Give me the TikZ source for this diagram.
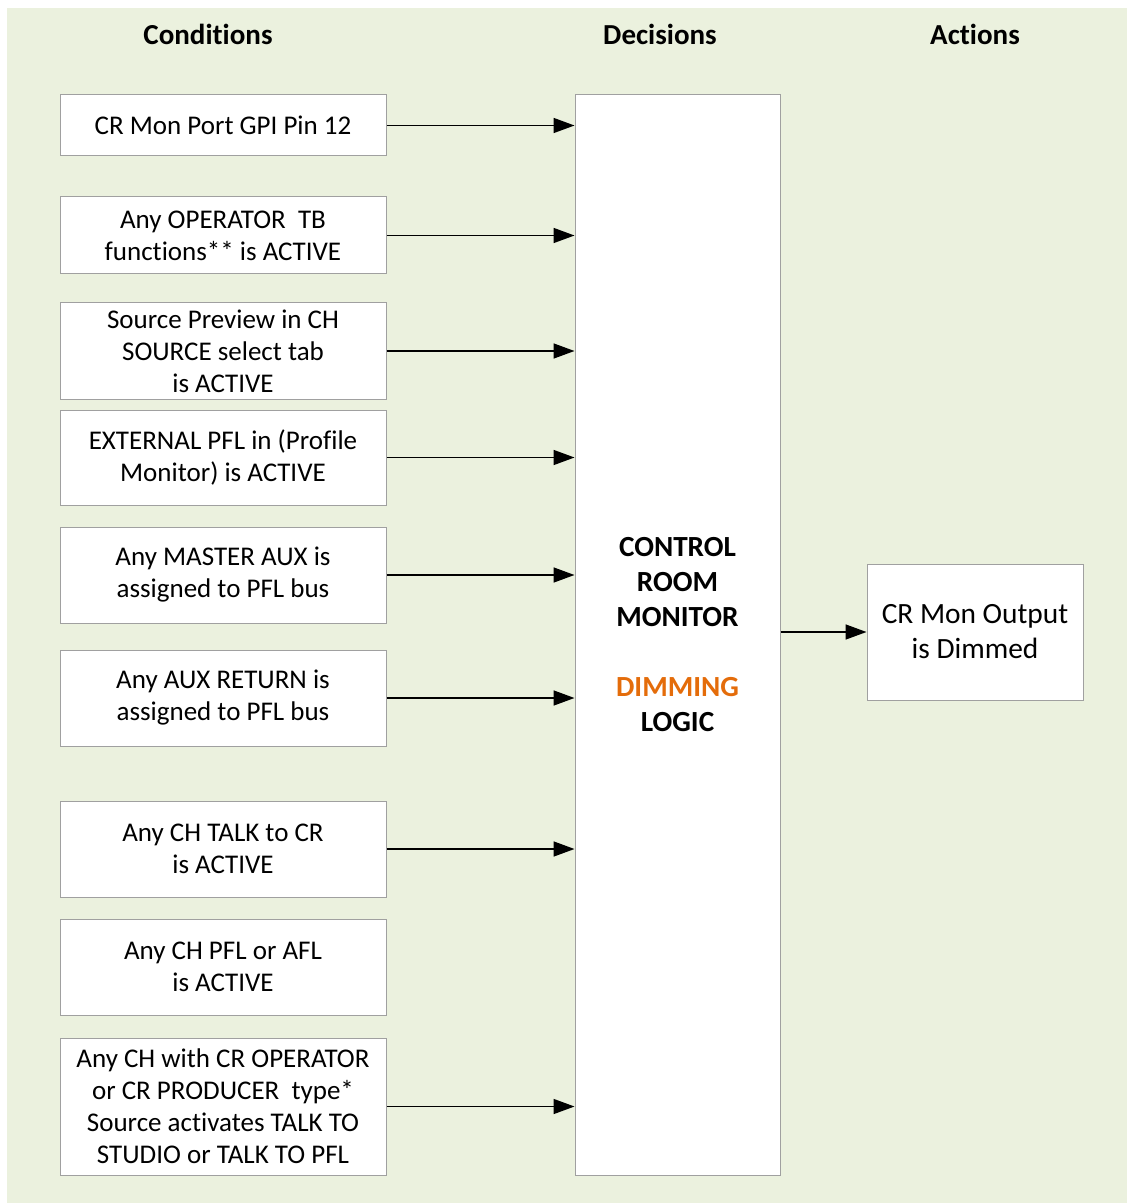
\documentclass[tikz,border=0pt]{standalone}
\usepackage{fontspec}
\setmainfont[Ligatures=NoCommon]{Carlito}
\usepackage{xcolor}
\usepackage{tikz}
\usetikzlibrary{arrows.meta}

\definecolor{panelgreen}{HTML}{EBF1DE}
\definecolor{boxgray}{HTML}{A0A0A0}
\definecolor{dimorange}{HTML}{E46C0A}

\begin{document}
\begin{tikzpicture}[
  x=0.5pt, y=-0.5pt,
  box/.style={draw=boxgray, line width=0.5pt, fill=white, inner sep=0pt,
    align=center, font=\fontsize{13.5pt}{16pt}\selectfont},
  cond/.style={box, minimum width=163pt},
  header/.style={font=\fontsize{14.5pt}{17pt}\selectfont\bfseries},
  arr/.style={-{Triangle[length=10.5pt, width=7.5pt]}, line width=0.8pt},
]

% Background
\useasboundingbox (0,0) rectangle (1127,1203);
\fill[panelgreen] (7,8) rectangle (1127,1203);

% Headers
\node[header] (hcond) at (208,34) {Conditions};
\node[header] (hdec) at (660,34) {Decisions};
\node[header] (hact) at (975,34) {Actions};

% Conditions
\node[cond, minimum height=30.5pt] (c1) at (223,125.5) {CR Mon Port GPI Pin 12};
\node[cond, minimum height=38.5pt] (c2) at (223,235.5) {Any OPERATOR\ \ TB\\functions** is ACTIVE};
\node[cond, minimum height=48pt] (c3) at (223,351) {Source Preview in CH\\SOURCE select tab\\is ACTIVE};
\node[cond, minimum height=47.5pt] (c4) at (223,457.5) {EXTERNAL PFL in (Profile\\Monitor) is ACTIVE};
\node[cond, minimum height=48pt] (c5) at (223,575) {Any MASTER AUX is\\assigned to PFL bus};
\node[cond, minimum height=48pt] (c6) at (223,698) {Any AUX RETURN is\\assigned to PFL bus};
\node[cond, minimum height=48pt] (c7) at (223,849) {Any CH TALK to CR\\is ACTIVE};
\node[cond, minimum height=48pt] (c8) at (223,967) {Any CH PFL or AFL\\is ACTIVE};
\node[cond, minimum height=68.5pt] (c9) at (223,1106.5) {Any CH with CR OPERATOR\\or CR PRODUCER\ \ type*\\Source activates TALK TO\\STUDIO or TALK TO PFL};

% Decision
\node[box, minimum width=102.5pt, minimum height=540pt,
  font=\fontsize{14.6pt}{17.5pt}\selectfont\bfseries] (dec) at (677.5,635)
  {CONTROL\\ROOM\\MONITOR\\[17.5pt]\textcolor{dimorange}{DIMMING}\\LOGIC};

% Action
\node[box, minimum width=108pt, minimum height=68pt,
  font=\fontsize{14.7pt}{17.5pt}\selectfont] (act) at (975,632)
  {CR Mon Output\\is Dimmed};

% Arrows
\foreach \c in {c1,c2,c3,c4,c5,c6,c7,c9}
  \draw[arr] (\c.east) -- (\c.east -| dec.west);
\draw[arr] (dec.east |- act.west) -- (act.west);

\end{tikzpicture}
\end{document}
